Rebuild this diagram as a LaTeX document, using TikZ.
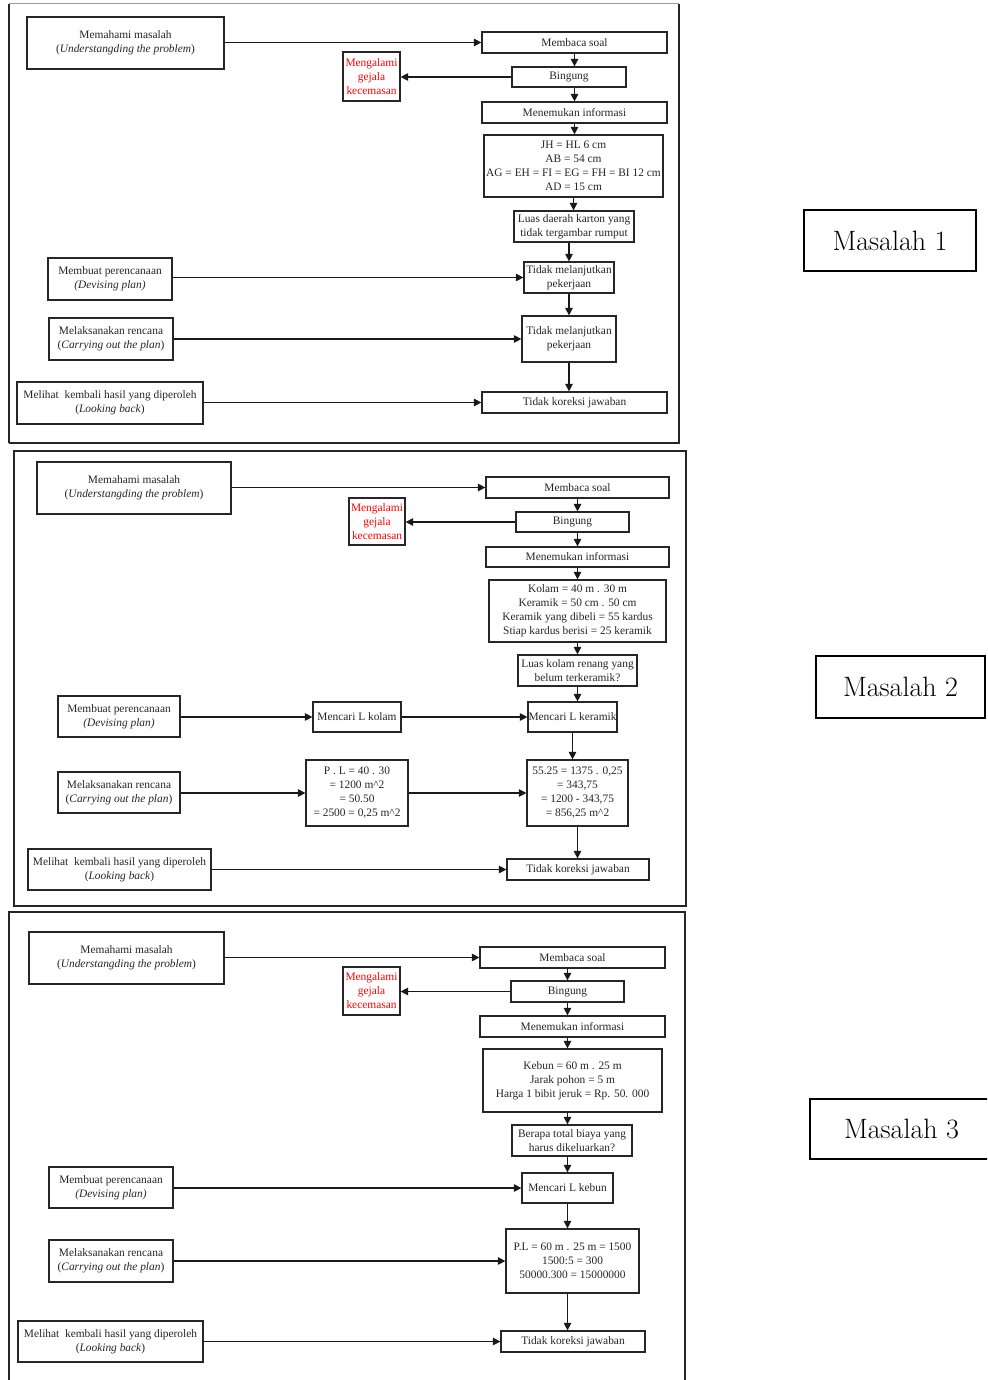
\documentclass[tikz,border=0pt]{standalone}
\usepackage{fontspec}
\newfontfamily\tnr{Liberation Serif}
\usetikzlibrary{arrows.meta}

\tikzset{
  stepbox/.style={draw=black!85, line width=1.2pt, inner sep=0pt, align=center,
    font=\tnr\fontsize{11.4}{14}\selectfont, text=black!85},
  warnbox/.style={stepbox, text=red},
  conn/.style={line width=1.1pt, draw=black!90, -{Triangle[length=7.5pt,width=7.5pt]}},
  frame/.style={line width=1.2pt, draw=black!85},
  tagbox/.style={draw, line width=1.4pt, inner sep=0pt, font=\fontsize{28}{32}\selectfont}
}

% box given by its corners: [style]{name}{x1}{y1}{x2}{y2}{text}
\newcommand\boxat[7][stepbox]{%
  \node[#1, minimum width={(#5-#3)*1pt}, minimum height={(#6-#4)*1pt}]
    (#2) at ({(#3+#5)/2},{(#4+#6)/2}) {#7};}

\begin{document}
\begin{tikzpicture}[x=1pt,y=-1pt]
\clip (0,0) rectangle (987,1380);
\fill[white] (0,0) rectangle (987,1380);

% ---------------- Masalah 1 ----------------
\draw[frame] (9,443) -- (9,4);
\draw[frame] (9,443) -- (679,443) -- (679,4);
\draw[line width=1pt, draw=black!40] (9,4) -- (679,4);

\boxat{p1mem}{27}{17}{224}{69}{Memahami masalah\\(\textit{Understangding the problem})}
\boxat{p1baca}{482}{32}{667}{53}{Membaca soal}
\boxat[warnbox]{p1cemas}{343}{52}{400}{101}{Mengalami\\gejala\\kecemasan}
\boxat{p1bing}{512}{67}{626}{87}{Bingung}
\boxat{p1info}{482}{102}{667}{123}{Menemukan informasi}
\boxat{p1data}{484}{135}{663}{197}{JH = HL 6 cm\\AB = 54 cm\\AG = EH = FI = EG = FH = BI 12 cm\\AD = 15 cm}
\boxat{p1tanya}{514}{211}{634}{242}{Luas daerah karton yang\\tidak tergambar rumput}
\boxat{p1plan}{48}{258}{172}{300}{Membuat perencanaan\\\textit{(Devising plan)}}
\boxat{p1stopa}{524}{262}{614}{293}{Tidak melanjutkan\\pekerjaan}
\boxat{p1do}{49}{318}{173}{360}{Melaksanakan rencana\\(\textit{Carrying out the plan})}
\boxat{p1stopb}{522}{316}{616}{362}{Tidak melanjutkan\\pekerjaan}
\boxat{p1back}{17}{382}{203}{424}{Melihat\ \ kembali hasil yang diperoleh\\(\textit{Looking back})}
\boxat{p1cek}{482}{392}{667}{413}{Tidak koreksi jawaban}

\draw[conn] (p1mem.east |- p1baca) -- (p1baca.west);
\draw[conn] (p1bing.west) -- (p1bing.west -| p1cemas.east);
\draw[conn] (p1baca.south) -- (p1baca.south |- p1bing.north);
\draw[conn] (p1bing.south -| p1info) -- (p1info.north);
\draw[conn] (p1info.south) -- (p1info.south |- p1data.north);
\draw[conn] (p1data.south) -- (p1data.south |- p1tanya.north);
\draw[conn] (p1tanya.south -| p1stopa) -- (p1stopa.north);
\draw[conn] (p1plan.east |- p1stopa) -- (p1stopa.west);
\draw[conn] (p1stopa.south) -- (p1stopa.south |- p1stopb.north);
\draw[conn] (p1do.east |- p1stopb) -- (p1stopb.west);
\draw[conn] (p1stopb.south) -- (p1stopb.south |- p1cek.north);
\draw[conn] (p1back.east |- p1cek) -- (p1cek.west);

% ---------------- Masalah 2 ----------------
\draw[frame] (14,451) rectangle (686,906);

\boxat{p2mem}{37}{462}{231}{514}{Memahami masalah\\(\textit{Understangding the problem})}
\boxat{p2baca}{486}{477}{669}{498}{Membaca soal}
\boxat[warnbox]{p2cemas}{349}{498}{405}{545}{Mengalami\\gejala\\kecemasan}
\boxat{p2bing}{516}{512}{629}{532}{Bingung}
\boxat{p2info}{486}{547}{669}{567}{Menemukan informasi}
\boxat{p2data}{489}{580}{666}{642}{Kolam = 40 m . 30 m\\Keramik = 50 cm . 50 cm\\Keramik yang dibeli = 55 kardus\\Stiap kardus berisi = 25 keramik}
\boxat{p2tanya}{518}{655}{637}{686}{Luas kolam renang yang\\belum terkeramik?}
\boxat{p2plan}{58}{696}{180}{737}{Membuat perencanaan\\\textit{(Devising plan)}}
\boxat{p2kolam}{313}{702}{401}{732}{Mencari L kolam}
\boxat{p2ker}{528}{702}{617}{732}{Mencari L keramik}
\boxat{p2do}{58}{772}{180}{813}{Melaksanakan rencana\\(\textit{Carrying out the plan})}
\boxat{p2hit}{306}{760}{408}{826}{P . L = 40 . 30\\= 1200 m\textasciicircum 2\\= 50.50\\= 2500 = 0,25 m\textasciicircum 2}
\boxat{p2sisa}{527}{760}{628}{826}{55.25 = 1375 . 0,25\\= 343,75\\= 1200 - 343,75\\= 856,25 m\textasciicircum 2}
\boxat{p2back}{28}{849}{211}{890}{Melihat\ \ kembali hasil yang diperoleh\\(\textit{Looking back})}
\boxat{p2cek}{507}{859}{649}{880}{Tidak koreksi jawaban}

\draw[conn] (p2mem.east |- p2baca) -- (p2baca.west);
\draw[conn] (p2bing.west) -- (p2bing.west -| p2cemas.east);
\draw[conn] (p2baca.south) -- (p2baca.south |- p2bing.north);
\draw[conn] (p2bing.south -| p2info) -- (p2info.north);
\draw[conn] (p2info.south) -- (p2info.south |- p2data.north);
\draw[conn] (p2data.south) -- (p2data.south |- p2tanya.north);
\draw[conn] (p2tanya.south) -- (p2tanya.south |- p2ker.north);
\draw[conn] (p2plan.east |- p2kolam) -- (p2kolam.west);
\draw[conn] (p2kolam.east) -- (p2kolam.east -| p2ker.west);
\draw[conn] (p2ker.south) -- (p2ker.south |- p2sisa.north);
\draw[conn] (p2do.east |- p2hit) -- (p2hit.west);
\draw[conn] (p2hit.east) -- (p2hit.east -| p2sisa.west);
\draw[conn] (p2sisa.south) -- (p2sisa.south |- p2cek.north);
\draw[conn] (p2back.east |- p2cek) -- (p2cek.west);

% ---------------- Masalah 3 ----------------
\draw[frame] (9,1395) -- (9,912) -- (685,912) -- (685,1395);

\boxat{p3mem}{29}{932}{224}{984}{Memahami masalah\\(\textit{Understangding the problem})}
\boxat{p3baca}{480}{947}{665}{968}{Membaca soal}
\boxat[warnbox]{p3cemas}{343}{967}{400}{1015}{Mengalami\\gejala\\kecemasan}
\boxat{p3bing}{511}{981}{624}{1002}{Bingung}
\boxat{p3info}{480}{1016}{665}{1037}{Menemukan informasi}
\boxat{p3data}{483}{1049}{662}{1112}{Kebun = 60 m . 25 m\\Jarak pohon = 5 m\\Harga 1 bibit jeruk = Rp. 50. 000}
\boxat{p3tanya}{512}{1125}{632}{1156}{Berapa total biaya yang\\harus dikeluarkan?}
\boxat{p3plan}{49}{1167}{173}{1208}{Membuat perencanaan\\\textit{(Devising plan)}}
\boxat{p3kebun}{522}{1173}{613}{1203}{Mencari L kebun}
\boxat{p3do}{49}{1240}{173}{1282}{Melaksanakan rencana\\(\textit{Carrying out the plan})}
\boxat{p3hit}{506}{1229}{639}{1293}{P.L = 60 m . 25 m = 1500\\1500:5 = 300\\50000.300 = 15000000}
\boxat{p3back}{18}{1321}{203}{1362}{Melihat\ \ kembali hasil yang diperoleh\\(\textit{Looking back})}
\boxat{p3cek}{501}{1331}{645}{1352}{Tidak koreksi jawaban}

\draw[conn] (p3mem.east |- p3baca) -- (p3baca.west);
\draw[conn] (p3bing.west) -- (p3bing.west -| p3cemas.east);
\draw[conn] (p3baca.south -| p3bing) -- (p3bing.north);
\draw[conn] (p3bing.south) -- (p3bing.south |- p3info.north);
\draw[conn] (p3info.south -| p3bing) -- (p3bing |- p3data.north);
\draw[conn] (p3data.south -| p3bing) -- (p3bing |- p3tanya.north);
\draw[conn] (p3tanya.south -| p3kebun) -- (p3kebun.north);
\draw[conn] (p3plan.east |- p3kebun) -- (p3kebun.west);
\draw[conn] (p3kebun.south) -- (p3kebun.south |- p3hit.north);
\draw[conn] (p3do.east |- p3hit) -- (p3hit.west);
\draw[conn] (p3hit.south -| p3kebun) -- (p3kebun |- p3cek.north);
\draw[conn] (p3back.east |- p3cek) -- (p3cek.west);

% ---------------- labels ----------------
\boxat[tagbox]{tag1}{804}{210}{976}{271}{Masalah 1}
\boxat[tagbox]{tag2}{816}{656}{985}{718}{Masalah 2}
\boxat[tagbox]{tag3}{810}{1099}{993}{1159}{Masalah 3}
\end{tikzpicture}
\end{document}
